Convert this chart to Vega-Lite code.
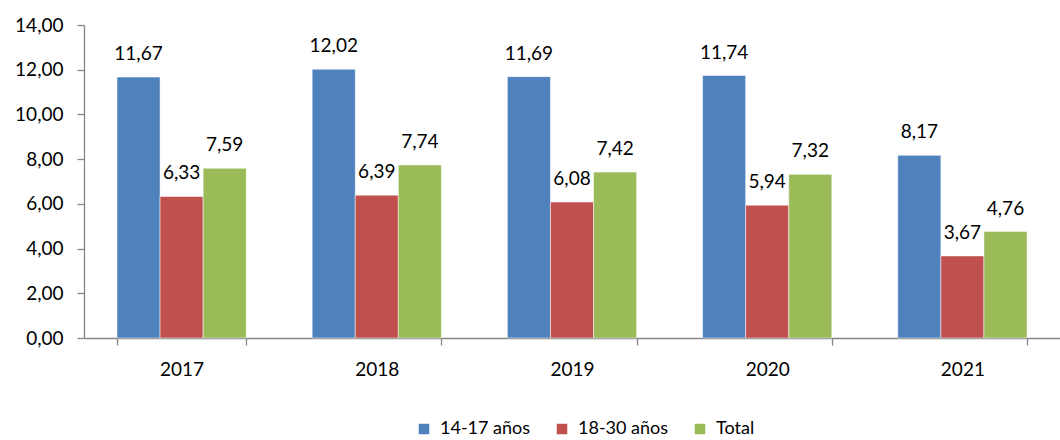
{
  "$schema": "https://vega.github.io/schema/vega-lite/v6.json",
  "width": 976,
  "height": 313,
  "autosize": {"type": "none"},
  "padding": {"left": 84, "top": 25, "right": 0, "bottom": 102},
  "background": "white",
  "config": {
    "view": {"stroke": null},
    "font": "Lato",
    "locale": {"number": {"decimal": ",", "thousands": ".", "grouping": [3], "currency": ["", " €"]}}
  },
  "data": {
    "values": [
      {"year": "2017", "group": "14-17 años", "value": 11.67},
      {"year": "2017", "group": "18-30 años", "value": 6.33},
      {"year": "2017", "group": "Total", "value": 7.59},
      {"year": "2018", "group": "14-17 años", "value": 12.02},
      {"year": "2018", "group": "18-30 años", "value": 6.39},
      {"year": "2018", "group": "Total", "value": 7.74},
      {"year": "2019", "group": "14-17 años", "value": 11.69},
      {"year": "2019", "group": "18-30 años", "value": 6.08},
      {"year": "2019", "group": "Total", "value": 7.42},
      {"year": "2020", "group": "14-17 años", "value": 11.74},
      {"year": "2020", "group": "18-30 años", "value": 5.94},
      {"year": "2020", "group": "Total", "value": 7.32},
      {"year": "2021", "group": "14-17 años", "value": 8.17},
      {"year": "2021", "group": "18-30 años", "value": 3.67},
      {"year": "2021", "group": "Total", "value": 4.76}
    ]
  },
  "encoding": {
    "x": {
      "field": "year", "type": "nominal", "title": null,
      "scale": {"paddingInner": 0.338, "paddingOuter": 0.169},
      "axis": {
        "labelAngle": 0, "labelFontSize": 19, "labelColor": "#000000", "labelFont": "Lato",
        "domainColor": "#868686", "tickColor": "#868686", "tickSize": 7,
        "tickBand": "extent", "labelPadding": 15, "grid": false, "domainWidth": 1.3, "tickWidth": 1.3
      }
    },
    "xOffset": {"field": "group", "type": "nominal", "sort": ["14-17 años", "18-30 años", "Total"], "scale": {"paddingInner": 0, "paddingOuter": 0}},
    "y": {
      "field": "value", "type": "quantitative", "title": null,
      "scale": {"domain": [0, 14], "nice": false},
      "axis": {
        "values": [0, 2, 4, 6, 8, 10, 12, 14], "format": ".2f",
        "labelFontSize": 19, "labelColor": "#000000", "labelFont": "Lato",
        "domainColor": "#868686", "tickColor": "#868686", "tickSize": 7,
        "labelPadding": 14, "grid": false, "domainWidth": 1.3, "tickWidth": 1.3
      }
    }
  },
  "layer": [
    {
      "mark": {"type": "bar", "stroke": "white", "strokeWidth": 0.5},
      "encoding": {
        "color": {
          "field": "group", "type": "nominal", "sort": ["14-17 años", "18-30 años", "Total"],
          "scale": {"domain": ["14-17 años", "18-30 años", "Total"], "range": ["#4F81BD", "#C0504D", "#9BBB59"]},
          "legend": {
            "title": null, "orient": "none", "legendX": 331, "legendY": 395, "direction": "horizontal",
            "symbolType": "square", "symbolSize": 110, "symbolStrokeWidth": 0,
            "labelFontSize": 18, "labelColor": "#000000", "labelFont": "Lato",
            "labelOffset": 7, "columnPadding": 22, "padding": 0
          }
        }
      }
    },
    {
      "mark": {"type": "text", "baseline": "alphabetic", "dy": -17, "fontSize": 19, "color": "#000000", "font": "Lato"},
      "encoding": {
        "text": {"field": "value", "type": "quantitative", "format": ".2f"}
      }
    }
  ]
}
